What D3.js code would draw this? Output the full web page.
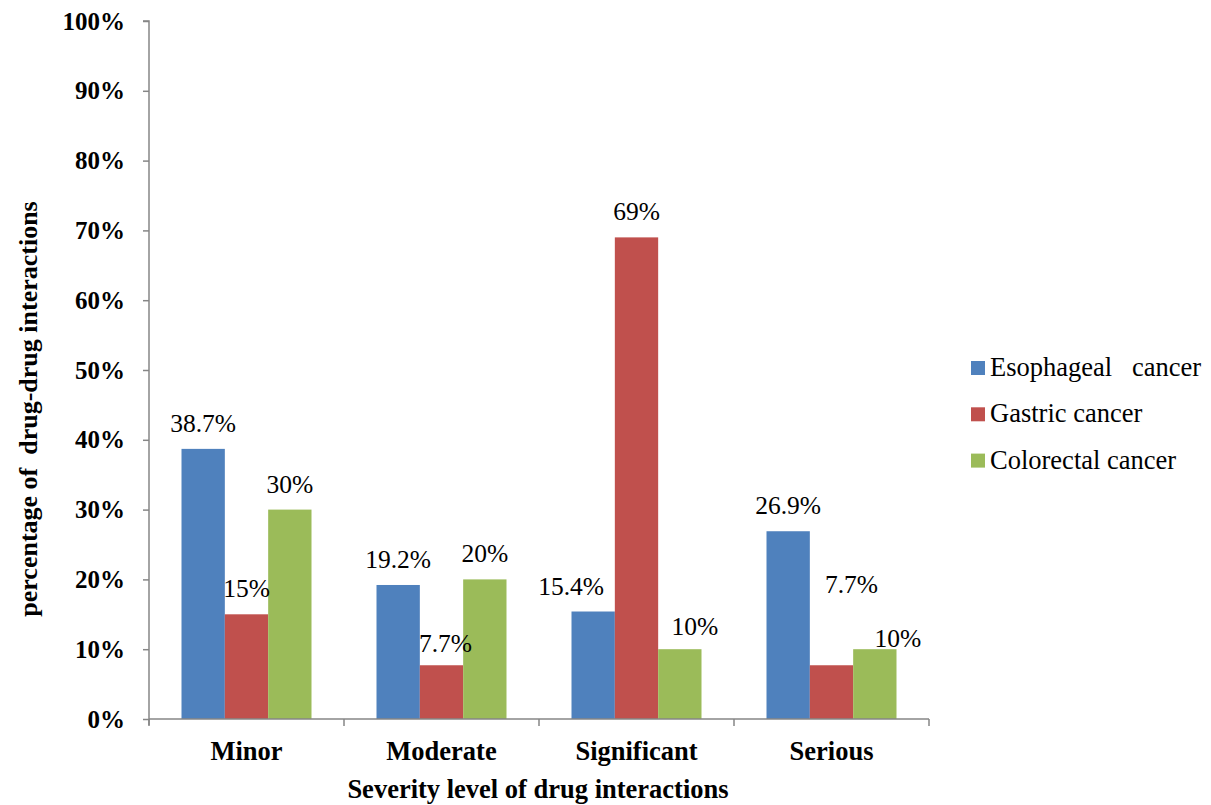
<!DOCTYPE html>
<html>
<head>
<meta charset="utf-8">
<script src="https://cdn.jsdelivr.net/npm/d3@7"></script>
<style>
  html, body { margin: 0; padding: 0; background: #fff; }
  svg { display: block; }
</style>
</head>
<body>
<svg id="chart" width="1211" height="805"></svg>
<script>
// Severity categories and the three cancer series (percent of drug-drug interactions)
const categories = ["Minor", "Moderate", "Significant", "Serious"];
const seriesNames = ["Esophageal   cancer", "Gastric cancer", "Colorectal cancer"];
const esophageal = [38.7, 19.2, 15.4, 26.9];
const gastric = [15, 7.7, 69, 7.7];
const colorectal = [30, 20, 10, 10];
const labelTexts = [
  ["38.7%", "19.2%", "15.4%", "26.9%"],
  ["15%", "7.7%", "69%", "7.7%"],
  ["30%", "20%", "10%", "10%"]
];
const yTicks = [0, 10, 20, 30, 40, 50, 60, 70, 80, 90, 100];

const seriesValues = [esophageal, gastric, colorectal];
const colors = ["#4F81BD", "#C0504D", "#9BBB59"];

// Hand-placed label offsets [dx, dy] relative to the default spot above each bar
const labelNudge = [
  [[0, 0], [0, 0], [-22, 0], [0, 0]],
  [[0, 0], [4, 4], [0, 0], [20, -55]],
  [[0, 0], [0, 0], [15, 3], [23, 15]]
];

const FONT = "'Liberation Serif', 'Times New Roman', serif";
const svg = d3.select("#chart").attr("font-family", FONT).style("font-family", FONT);
const x0 = 149, x1 = 929, yBase = 719, yTop = 21;

const x = d3.scaleBand().domain(categories).range([x0, x1])
  .paddingInner(1 / 3).paddingOuter(1 / 6);
const xs = d3.scaleBand().domain(d3.range(seriesValues.length)).range([0, x.bandwidth()]);
const y = d3.scaleLinear().domain([0, 100]).range([yBase, yTop]);

const axisColor = "#868686";

function styleText(sel, size, bold) {
  return sel.attr("font-family", FONT).style("font-family", FONT)
    .style("font-size", size + "px").style("font-weight", bold ? "bold" : "normal")
    .attr("fill", "#000");
}

// Bars
const rows = [];
seriesValues.forEach((vals, s) => vals.forEach((v, c) => rows.push({ s, c, v })));

svg.append("g").selectAll("rect").data(rows).join("rect")
  .attr("x", d => x(categories[d.c]) + xs(d.s))
  .attr("y", d => y(d.v))
  .attr("width", xs.bandwidth())
  .attr("height", d => y(0) - y(d.v))
  .attr("fill", d => colors[d.s]);

// Y axis
const yAxis = svg.append("g").attr("transform", `translate(${x0},0)`)
  .call(d3.axisLeft(y).tickValues(yTicks).tickSize(6).tickPadding(18)
    .tickFormat(d => d + "%"));
yAxis.attr("font-family", FONT);
yAxis.select(".domain").attr("stroke", axisColor).attr("stroke-width", 1.5)
  .attr("d", `M-6,${yTop}H0V${yBase + 6}`);
yAxis.selectAll(".tick line").attr("stroke", axisColor).attr("stroke-width", 1.5);
styleText(yAxis.selectAll(".tick text"), 25, true);

// X axis line with tick marks at category boundaries
const xAxis = svg.append("g");
xAxis.append("line").attr("x1", x0).attr("x2", x1).attr("y1", yBase).attr("y2", yBase)
  .attr("stroke", axisColor).attr("stroke-width", 1.5);
const bounds = categories.map(c => x(c) - x.step() * x.paddingInner() / 2)
  .concat([x1]);
xAxis.selectAll("line.tk").data(bounds).join("line").attr("class", "tk")
  .attr("x1", d => d).attr("x2", d => d).attr("y1", yBase).attr("y2", yBase + 7)
  .attr("stroke", axisColor).attr("stroke-width", 1.5);
styleText(xAxis.selectAll("text").data(categories).join("text"), 26.5, true)
  .attr("x", d => x(d) + x.bandwidth() / 2).attr("y", 760)
  .attr("text-anchor", "middle")
  .text(d => d);

// Value labels
styleText(svg.append("g").selectAll("text").data(rows).join("text"), 25.5, false)
  .attr("x", d => x(categories[d.c]) + xs(d.s) + xs.bandwidth() / 2 + labelNudge[d.s][d.c][0])
  .attr("y", d => y(d.v) - 17 + labelNudge[d.s][d.c][1])
  .attr("text-anchor", "middle")
  .text(d => labelTexts[d.s][d.c]);

// Axis titles
styleText(svg.append("text"), 26.5, true)
  .attr("x", (x0 + x1) / 2 - 1).attr("y", 798)
  .attr("text-anchor", "middle")
  .text("Severity level of drug interactions");
styleText(svg.append("text"), 26, true)
  .attr("transform", "translate(37,409) rotate(-90)")
  .attr("text-anchor", "middle")
  .attr("xml:space", "preserve").style("white-space", "pre")
  .text("percentage of  drug-drug interactions");

// Legend
const legend = svg.append("g").selectAll("g").data(seriesNames).join("g")
  .attr("transform", (d, i) => `translate(971,${368 + i * 46.3})`);
legend.append("rect").attr("x", 0).attr("y", -7).attr("width", 14).attr("height", 14)
  .attr("fill", (d, i) => colors[i]);
styleText(legend.append("text"), 26.5, false)
  .attr("x", 19).attr("y", 8)
  .attr("xml:space", "preserve").style("white-space", "pre")
  .text(d => d);
</script>
</body>
</html>
